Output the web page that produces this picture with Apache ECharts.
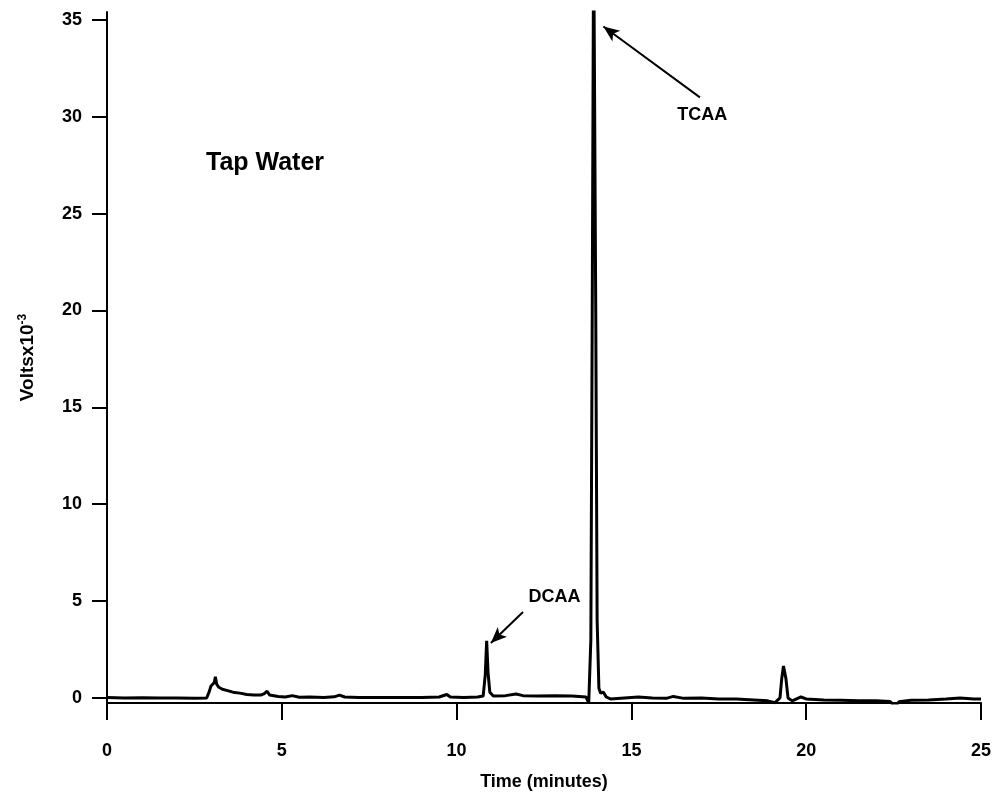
<!DOCTYPE html>
<html>
<head>
<meta charset="utf-8">
<script src="https://cdn.jsdelivr.net/npm/echarts@6/dist/echarts.min.js"></script>
<style>
html,body{margin:0;padding:0;background:#fff;}
#chart{width:999px;height:799px;}
</style>
</head>
<body>
<div id="chart"></div>
<script>
// Retention time (minutes)
const times = [
  0.0, 0.5, 1.0, 1.5, 2.0, 2.5, 2.85, 2.92, 2.97, 3.02, 3.07, 3.10, 3.14, 3.2, 3.3, 3.45, 3.6, 3.8,
  4.0, 4.2, 4.4, 4.5, 4.58, 4.65, 4.9, 5.1, 5.3, 5.5, 5.8, 6.2, 6.5, 6.65, 6.8, 7.2, 7.6, 8.0,
  8.5, 9.0, 9.5, 9.72, 9.82, 10.2, 10.6, 10.76, 10.82, 10.86, 10.90, 10.95, 11.05, 11.4, 11.7, 11.9,
  12.3, 12.8, 13.3, 13.7, 13.78, 13.84, 13.88, 13.92, 13.98, 14.02, 14.07, 14.12, 14.2, 14.28, 14.4,
  14.8, 15.2, 15.6, 16.0, 16.2, 16.5, 17.0, 17.5, 18.0, 18.5, 18.9, 19.1, 19.25, 19.3, 19.35, 19.42,
  19.48, 19.6, 19.85, 20.0, 20.5, 21.0, 21.5, 22.0, 22.4, 22.54, 22.65, 23.0, 23.5, 24.0, 24.4, 24.8, 25.0
];
// Detector signal (Volts x 10^-3)
const signal = [
  0.02, 0.0, 0.01, 0.0, 0.0, -0.02, 0.0, 0.3, 0.6, 0.55, 0.8, 1.1, 0.7, 0.55, 0.45, 0.38, 0.3, 0.25,
  0.18, 0.15, 0.15, 0.22, 0.35, 0.15, 0.08, 0.05, 0.12, 0.04, 0.05, 0.02, 0.06, 0.15, 0.05, 0.03, 0.02, 0.02,
  0.03, 0.02, 0.05, 0.18, 0.05, 0.03, 0.05, 0.1, 1.2, 2.95, 1.3, 0.3, 0.1, 0.12, 0.2, 0.12,
  0.1, 0.12, 0.1, 0.05, -0.25, 3, 20, 40, 20, 4, 0.5, 0.25, 0.3, 0.05, -0.05,
  0.0, 0.05, 0.0, -0.02, 0.08, -0.02, 0.0, -0.05, -0.05, -0.1, -0.15, -0.25, 0.0, 1.0, 1.65, 1.0,
  0.0, -0.15, 0.05, -0.05, -0.1, -0.12, -0.15, -0.15, -0.18, -0.45, -0.2, -0.12, -0.1, -0.05, 0.0, -0.05, -0.05
];
const yTicks = [0, 5, 10, 15, 20, 25, 30, 35];
const xTicks = [0, 5, 10, 15, 20, 25];
// Annotation labels and arrows (data coordinates)
const peakLabels = [
  { name: 'DCAA', at: [12.8, 5.19] },
  { name: 'TCAA', at: [17.03, 30.1] }
];
const arrows = [
  { from: [11.9, 4.44], to: [10.98, 2.84] },
  { from: [16.96, 31.0], to: [14.2, 34.66] }
];
const sampleLabel = { name: 'Tap Water', at: [4.52, 27.6] };

const FONT = "'Liberation Sans', Arial, Helvetica, sans-serif";
const chart = echarts.init(document.getElementById('chart'));
chart.setOption({
  animation: false,
  backgroundColor: '#fff',
  grid: { left: 107, right: 18, top: 12, bottom: 96 },
  xAxis: {
    type: 'value',
    min: 0, max: 25, interval: 5,
    name: 'Time (minutes)',
    nameLocation: 'middle',
    nameGap: 70,
    nameTextStyle: { fontFamily: FONT, fontSize: 18, fontWeight: 'bold', color: '#000' },
    axisLine: { show: true, onZero: false, lineStyle: { color: '#000', width: 2 } },
    axisTick: { show: true, length: 17, inside: false, lineStyle: { color: '#000', width: 2 } },
    axisLabel: { margin: 39, fontFamily: FONT, fontSize: 18, color: '#000', fontWeight: 'bold',
      customValues: xTicks },
    splitLine: { show: false }
  },
  yAxis: {
    type: 'value',
    min: -0.26, max: 35.41,
    name: 'Voltsx10{sup|-3}',
    nameLocation: 'middle',
    nameGap: 68,
    nameRotate: 90,
    nameTextStyle: { fontFamily: FONT, fontSize: 19, fontWeight: 'bold', color: '#000',
      rich: { sup: { fontFamily: FONT, fontSize: 12, fontWeight: 'bold', color: '#000', verticalAlign: 'top', padding: [0,0,10,0] } } },
    axisLine: { show: true, onZero: false, lineStyle: { color: '#000', width: 2 } },
    axisTick: { show: true, length: 15, customValues: yTicks, lineStyle: { color: '#000', width: 2 } },
    axisLabel: { margin: 25, fontFamily: FONT, fontSize: 18, color: '#000', fontWeight: 'bold',
      customValues: yTicks },
    splitLine: { show: false }
  },
  series: [{
    type: 'line',
    data: times.map((t, i) => [t, signal[i]]),
    showSymbol: false,
    symbol: 'none',
    clip: true,
    lineStyle: { color: '#000', width: 3 },
    markLine: {
      silent: true,
      symbol: ['none', 'arrow'],
      symbolSize: [10, 16],
      label: { show: false },
      lineStyle: { color: '#000', width: 2, type: 'solid' },
      data: arrows.map(a => [{ coord: a.from }, { coord: a.to }])
    },
    markPoint: {
      silent: true,
      symbol: 'rect',
      symbolSize: 1,
      itemStyle: { color: 'rgba(0,0,0,0)' },
      label: { show: true, position: 'inside', formatter: '{b}', color: '#000', fontFamily: FONT },
      data: peakLabels.map(p => ({ name: p.name, coord: p.at,
          label: { fontSize: 18, fontWeight: 'bold' } }))
        .concat([{ name: sampleLabel.name, coord: sampleLabel.at,
          label: { fontSize: 25, fontWeight: 'bold' } }])
    }
  }]
});
</script>
</body>
</html>
